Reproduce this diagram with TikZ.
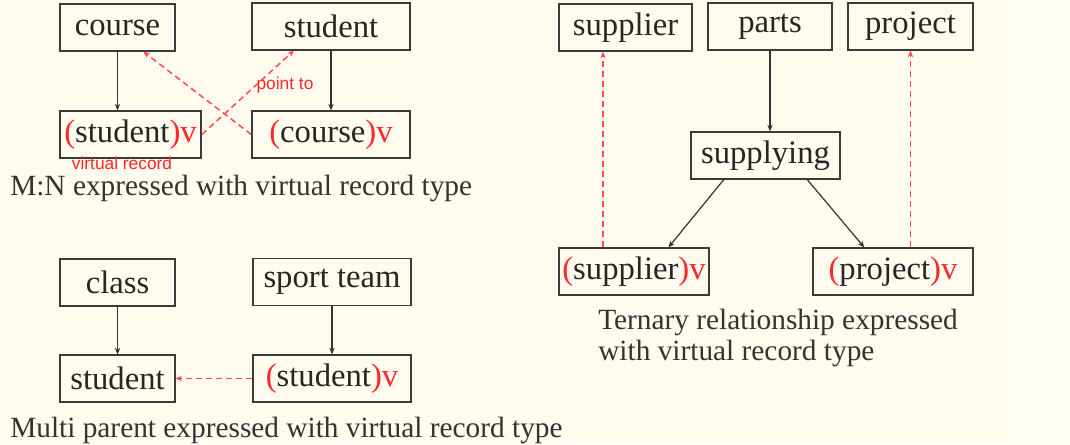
\documentclass[tikz,border=0pt]{standalone}
\usepackage{fontspec}
\setmainfont{Liberation Serif}
\newfontfamily\notefont{Liberation Sans}
\usetikzlibrary{arrows.meta}

\definecolor{paper}{HTML}{FFFBEE}
\definecolor{paperedge}{HTML}{FFFFF5}
\definecolor{boxline}{HTML}{3A3A3A}
\definecolor{vred}{HTML}{FF2828}
\definecolor{linkred}{HTML}{FF4A4A}

\newcommand{\vrec}[1]{\textcolor{vred}{(}#1\textcolor{vred}{)v}}

\tikzset{
  box/.style={draw=boxline, line width=1.1pt, minimum height=35pt, inner sep=0pt,
    text=black!85, font=\fontsize{24.5}{28}\selectfont},
  parentof/.style={-{Stealth[length=5pt,width=4pt]}, line width=0.9pt, draw=black!80},
  pointto/.style={-{Stealth[length=5pt,width=4pt]}, line width=1.1pt, draw=linkred,
    dash pattern=on 4.5pt off 3pt},
  caption/.style={inner sep=0pt, text=black!80, font=\fontsize{22}{23.5}\selectfont},
  note/.style={inner sep=0pt, text=vred, text depth=0pt, font=\notefont\fontsize{13}{16}\selectfont}
}

\begin{document}
\begin{tikzpicture}[x=0.75pt, y=-0.75pt]

        \fill[paper] (0,0) rectangle (1070,444);
        \fill[paperedge] (1009,0) rectangle (1070,444);

        % M:N
        \node[box, minimum width=86pt]    (course)   at (117.5, 27.5) {course};
        \node[box, minimum width=118.5pt] (student)  at (331.0, 26.5) {student};
        \node[box, minimum width=106pt]   (studentv) at (130.5,134.5) {\vrec{student}};
        \node[box, minimum width=118.5pt] (coursev)  at (331.0,134.5) {\vrec{course}};

        \draw[parentof] (course.south) -- (course.south |- studentv.north);
        \draw[parentof] (student) -- (coursev);
        \draw[pointto] (coursev.west) -- (course.-43);
        \draw[pointto] (studentv.east) -- (student.-147);

        \node[note] (pointlbl) at (285, 83) {point to};
        \node[note, anchor=base] (virtlbl) at (122,169) {virtual record};
        \node[caption, anchor=base west, text height=13pt] (mncap) at (10,195)
          {M:N expressed with virtual record type};

        % multi parent
        \node[box, minimum width=86pt]    (class)     at (117.5,282.5) {class};
        \node[box, minimum width=118.5pt] (sportteam) at (332.0,282.0) {sport team};
        \node[box, minimum width=86pt]    (pupil)     at (117.5,378.5) {student};
        \node[box, minimum width=118.5pt] (pupilv)    at (332.0,378.5) {\vrec{student}};

        \draw[parentof] (class) -- (pupil);
        \draw[parentof] (sportteam) -- (pupilv);
        \draw[pointto] (pupilv) -- (pupil);

        \node[caption, anchor=west] (mpcap) at (10,430) {Multi parent expressed with virtual record type};

        % ternary
        \node[box, minimum width=100pt] (supplier)  at (625.5, 27.5) {supplier};
        \node[box, minimum width=93pt]  (parts)     at (770.0, 26.5) {parts};
        \node[box, minimum width=94pt]  (project)   at (910.5, 26.5) {project};
        \node[box, minimum width=112pt] (supplying) at (765.5,155.5) {supplying};
        \node[box, minimum width=112.5pt] (supplierv) at (634.0,271.5) {\vrec{supplier}};
        \node[box, minimum width=120pt] (projectv)  at (893.0,271.5) {\vrec{project}};
        \coordinate (supx) at (603,0);

        \draw[parentof] (parts.south) -- (parts.south |- supplying.north);
        \draw[parentof] (supplying.-150) -- (supplierv.35);
        \draw[parentof] (supplying.-30) -- (projectv.140);
        \draw[pointto] (supplierv.north -| supx) -- (supplier.south -| supx);
        \draw[pointto] (projectv.north -| project.south) -- (project.south);

        \node[caption, anchor=west, align=left] (trcap) at (598,338)
          {Ternary relationship expressed\\with virtual record type};

      \end{tikzpicture}
\end{document}
